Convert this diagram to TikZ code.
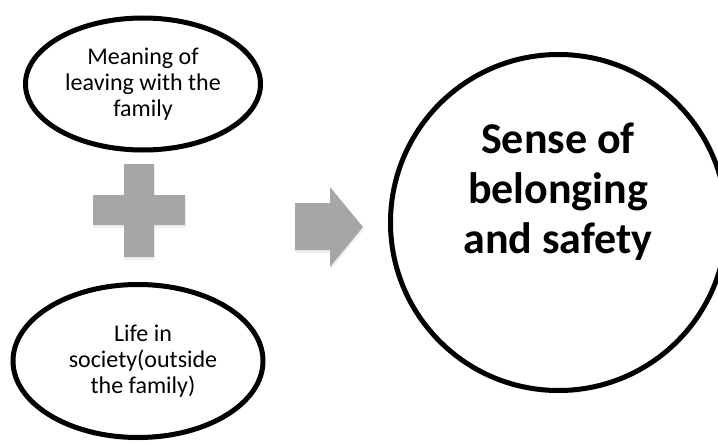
\documentclass[tikz,border=0pt]{standalone}
\usepackage{fontspec}
\setmainfont{Carlito}
\usetikzlibrary{shapes.geometric,shadows}
\definecolor{symgray}{HTML}{A6A6A6}
\begin{document}
\begin{tikzpicture}[x=1pt,y=-1pt,
  bubble/.style={ellipse, draw=black, line width=5pt, fill=white, align=center,
    font=\fontsize{24}{26}\selectfont, inner sep=0pt,
    drop shadow={opacity=0.12, shadow xshift=0.5pt, shadow yshift=-3pt}},
  bigcircle/.style={circle, draw=black, line width=5pt, fill=white, inner sep=0pt,
    drop shadow={opacity=0.12, shadow xshift=0.5pt, shadow yshift=-3pt}},
  bigtext/.style={align=center, font=\bfseries\fontsize{44}{50}\selectfont, inner sep=0pt},
  grayshape/.style={fill=symgray, drop shadow={opacity=0.12, shadow xshift=0.5pt, shadow yshift=-3pt}}]
\useasboundingbox (0,0) rectangle (718,444);
\fill[white] (0,0) rectangle (718,444);
% left bubbles
\node[bubble, minimum width=235pt, minimum height=132pt] (family) at (143,84)
  {Meaning of\\leaving with the\\family};
\node[bubble, minimum width=250pt, minimum height=153pt] (society) at (138,361)
  {\hspace*{10pt}Life in\\\hspace*{10pt}society(outside\\\hspace*{10pt}the family)};
% plus sign
\path[grayshape] (124,164) -- (154,164) -- (154,195) -- (185,195) -- (185,225)
  -- (154,225) -- (154,257) -- (124,257) -- (124,225) -- (93,225) -- (93,195)
  -- (124,195) -- cycle;
% arrow
\path[grayshape] (295,203) -- (330,203) -- (330,187) -- (363,227) -- (330,267)
  -- (330,250) -- (295,250) -- cycle;
% big circle
\node[bigcircle, minimum size=336pt] (goal) at (558.5,222.5) {};
\node[bigtext] (goaltext) at (558,192) {Sense of\\belonging\\and safety};
\end{tikzpicture}
\end{document}
